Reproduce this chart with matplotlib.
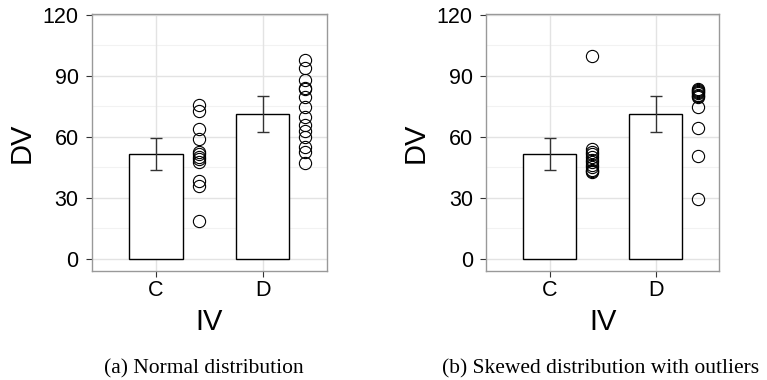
import matplotlib
matplotlib.use("Agg")
import matplotlib.pyplot as plt
import numpy as np

categories = ["C", "D"]
bar_means = [51.4, 71.2]
err_low = [43.6, 62.2]
err_high = [59.3, 80.0]

normal_C = [75.7, 72.9, 63.8, 58.9, 52.8, 51.6, 50.3, 49.4, 47.9, 38.5, 36.1, 18.8]
normal_D = [97.9, 93.9, 87.9, 84.3, 83.5, 79.8, 74.8, 70.0, 65.9, 63.0, 60.2, 55.2, 52.8, 47.1]

skewed_C = [99.7, 54.1, 52.8, 51.5, 50.2, 48.9, 47.6, 46.3, 45.0, 44.0, 43.3, 42.7]
skewed_D = [83.8, 83.2, 82.6, 82.0, 81.4, 80.8, 80.2, 79.6, 74.7, 64.6, 50.7, 29.7]

yticks = [0, 30, 60, 90, 120]
captions = ["(a) Normal distribution", "(b) Skewed distribution with outliers"]
xlabel = "IV"
ylabel = "DV"

fig = plt.figure(figsize=(7.67, 3.8), dpi=100)
W, H = 767, 380

def px_axes(l, t, r, b):
    return fig.add_axes([l / W, 1 - b / H, (r - l) / W, (b - t) / H])

axes = [px_axes(91.7, 14.3, 326.7, 270.7), px_axes(486, 14.3, 719.3, 270.7)]
caption_x = [203.4, 601.0]
data_sets = [(normal_C, normal_D), (skewed_C, skewed_D)]

sans = ["Liberation Sans", "DejaVu Sans"]
serif = ["Liberation Serif", "DejaVu Serif"]

for ax, (pc, pd), cap, cx in zip(axes, data_sets, captions, caption_x):
    x = np.arange(1, len(categories) + 1)
    ax.set_xlim(0.397, 2.6)
    ax.set_ylim(-5.75, 120.3)
    ax.set_axisbelow(True)
    for yv in [15, 45, 75, 105]:
        ax.axhline(yv, color="#f2f2f2", lw=0.8, zorder=0)
    for yv in yticks:
        ax.axhline(yv, color="#e3e3e3", lw=1.0, zorder=0)
    for xv in x:
        ax.axvline(xv, color="#e3e3e3", lw=1.0, zorder=0)
    ax.bar(x, bar_means, width=0.5, color="white", edgecolor="black", linewidth=1.0, zorder=2)
    lo = np.array(bar_means) - np.array(err_low)
    hi = np.array(err_high) - np.array(bar_means)
    ax.errorbar(x, bar_means, yerr=[lo, hi], fmt="none", ecolor="#333333",
                elinewidth=1.0, capsize=4, capthick=1.0, zorder=3)
    for xi, pts in zip(x, [pc, pd]):
        ax.plot(np.full(len(pts), xi + 0.4), pts, linestyle="none", marker="o",
                markersize=8.8, markerfacecolor="none", markeredgecolor="black",
                markeredgewidth=0.8, zorder=4)
    ax.set_xticks(x)
    ax.set_xticklabels(categories, fontfamily=sans, fontsize=15.5)
    ax.set_yticks(yticks)
    ax.set_yticklabels([str(v) for v in yticks], fontfamily=sans, fontsize=15.5)
    ax.tick_params(axis="both", length=4, width=0.8, color="#333333", labelcolor="black")
    ax.tick_params(axis="y", pad=5.5)
    ax.tick_params(axis="x", pad=3)
    for s in ax.spines.values():
        s.set_color("#999999")
        s.set_linewidth(1.0)
    ax.set_xlabel(xlabel, fontfamily=sans, fontsize=21, labelpad=5)
    ax.set_ylabel(ylabel, fontfamily=sans, fontsize=21, labelpad=5)
    fig.text(cx / W, 1 - 369 / H, cap, ha="center", va="center",
             fontfamily=serif, fontsize=15.5)

fig.savefig("out.png", dpi=100)
